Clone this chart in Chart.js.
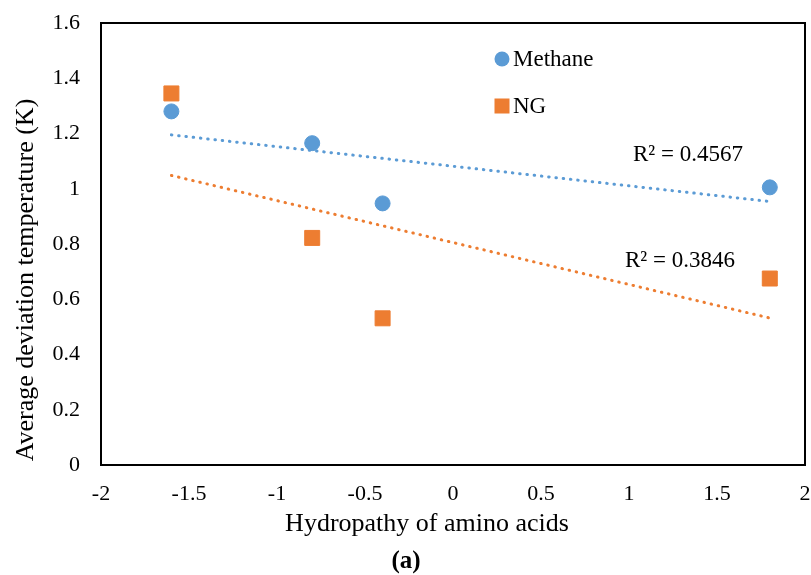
<!DOCTYPE html>
<html>
<head>
<meta charset="utf-8">
<script src="https://cdn.jsdelivr.net/npm/chart.js@4.4.0/dist/chart.umd.min.js"></script>
<style>
  html, body { margin: 0; padding: 0; background: #fff; }
  canvas { display: block; }
</style>
</head>
<body>
<canvas id="chart" width="811" height="575"></canvas>
<script>
// measured points
const hydropathy = [-1.6, -0.8, -0.4, 1.8];
const methaneDev = [1.28, 1.165, 0.947, 1.005];
const ngDev = [1.345, 0.822, 0.531, 0.675];

const seriesNames = ["Methane", "NG"];
const rSquaredLabels = ["R\u00b2 = 0.4567", "R\u00b2 = 0.3846"];

const xTitle = "Hydropathy of amino acids";
const yTitle = "Average deviation temperature (K)";
const panelTag = "(a)";

const BLUE = "#5b9bd5";
const ORANGE = "#ed7d31";
const FONT = "'Liberation Serif', 'Times New Roman', serif";

// least squares line over the x range of the data
function trend(xs, ys) {
    const n = xs.length;
    const mx = xs.reduce((s, v) => s + v, 0) / n;
    const my = ys.reduce((s, v) => s + v, 0) / n;
    let sxy = 0, sxx = 0;
    for (let i = 0; i < n; i++) {
        sxy += (xs[i] - mx) * (ys[i] - my);
        sxx += (xs[i] - mx) * (xs[i] - mx);
    }
    const b = sxy / sxx, a = my - b * mx;
    const lo = Math.min(...xs), hi = Math.max(...xs);
    return [{x: lo, y: a + b * lo}, {x: hi, y: a + b * hi}];
}

const pts = ys => hydropathy.map((x, i) => ({x, y: ys[i]}));

const fmt = v => String(Math.round(v * 10) / 10);

/* cadre, légende, R² et titres */
const decorations = {
    id: "decorations",
    beforeDatasetsDraw(chart) {
        const {ctx, chartArea: a} = chart;
        ctx.save();
        ctx.strokeStyle = "#000";
        ctx.lineWidth = 2;
        ctx.strokeRect(a.left, a.top, a.right - a.left, a.bottom - a.top);
        ctx.restore();
    },
    afterDraw(chart) {
        const {ctx, chartArea: a} = chart;
        ctx.save();
        ctx.fillStyle = "#000";
        ctx.textBaseline = "middle";

        // legend inside the plot
        const lx = a.left + 401, ly = a.top + 36, gap = 47;
        ctx.fillStyle = BLUE;
        ctx.beginPath();
        ctx.arc(lx, ly, 7.5, 0, Math.PI * 2);
        ctx.fill();
        ctx.fillStyle = ORANGE;
        ctx.fillRect(lx - 7.5, ly + gap - 7.5, 15, 15);
        ctx.fillStyle = "#000";
        ctx.font = "23px " + FONT;
        ctx.textAlign = "left";
        ctx.fillText(seriesNames[0], lx + 11, ly + 1);
        ctx.fillText(seriesNames[1], lx + 11, ly + gap + 1);

        // R² labels
        ctx.textAlign = "center";
        ctx.fillText(rSquaredLabels[0], a.left + 587, a.top + 132);
        ctx.fillText(rSquaredLabels[1], a.left + 579, a.top + 238);

        // axis titles
        ctx.font = "26px " + FONT;
        ctx.fillText(xTitle, 427, 524);
        ctx.save();
        ctx.translate(26, 280);
        ctx.rotate(-Math.PI / 2);
        ctx.fillText(yTitle, 0, 0);
        ctx.restore();

        ctx.font = "bold 25px " + FONT;
        ctx.fillText(panelTag, 406, 562);
        ctx.restore();
    }
};

new Chart(document.getElementById("chart"), {
    type: "scatter",
    data: {
        datasets: [
            {
                label: seriesNames[0],
                data: pts(methaneDev),
                backgroundColor: BLUE,
                borderColor: BLUE,
                pointStyle: "circle",
                pointRadius: 7.5,
                pointHoverRadius: 7.5,
                order: 1
            },
            {
                label: seriesNames[1],
                data: pts(ngDev),
                backgroundColor: ORANGE,
                borderColor: ORANGE,
                pointStyle: "rect",
                pointRadius: 10.6,
                pointHoverRadius: 10.6,
                order: 1
            },
            {
                type: "line",
                data: trend(hydropathy, methaneDev),
                borderColor: BLUE,
                borderWidth: 3,
                borderDash: [0.5, 6.8],
                borderCapStyle: "round",
                pointRadius: 0,
                fill: false,
                order: 2
            },
            {
                type: "line",
                data: trend(hydropathy, ngDev),
                borderColor: ORANGE,
                borderWidth: 3,
                borderDash: [0.5, 6.8],
                borderCapStyle: "round",
                pointRadius: 0,
                fill: false,
                order: 2
            }
        ]
    },
    options: {
        responsive: false,
        animation: false,
        layout: { autoPadding: false, padding: { left: 0, right: 6, top: 23, bottom: 0 } },
        plugins: {
            legend: { display: false },
            tooltip: { enabled: false }
        },
        scales: {
            x: {
                type: "linear",
                min: -2,
                max: 2,
                ticks: {
                    stepSize: 0.5,
                    callback: fmt,
                    color: "#000",
                    font: { family: FONT, size: 22 },
                    padding: 16,
                    maxRotation: 0
                },
                grid: { display: false, drawTicks: false },
                border: { display: false },
                afterFit: s => {
                    s.height = 110;
                    s.paddingLeft = 0;
                    s.paddingRight = 0;
                }
            },
            y: {
                min: 0,
                max: 1.6,
                ticks: {
                    stepSize: 0.2,
                    callback: fmt,
                    color: "#000",
                    font: { family: FONT, size: 22 },
                    padding: 21
                },
                grid: { display: false, drawTicks: false },
                border: { display: false },
                afterFit: s => {
                    s.width = 101;
                    s.paddingTop = 0;
                    s.paddingBottom = 0;
                }
            }
        }
    },
    plugins: [decorations]
});
</script>
</body>
</html>
